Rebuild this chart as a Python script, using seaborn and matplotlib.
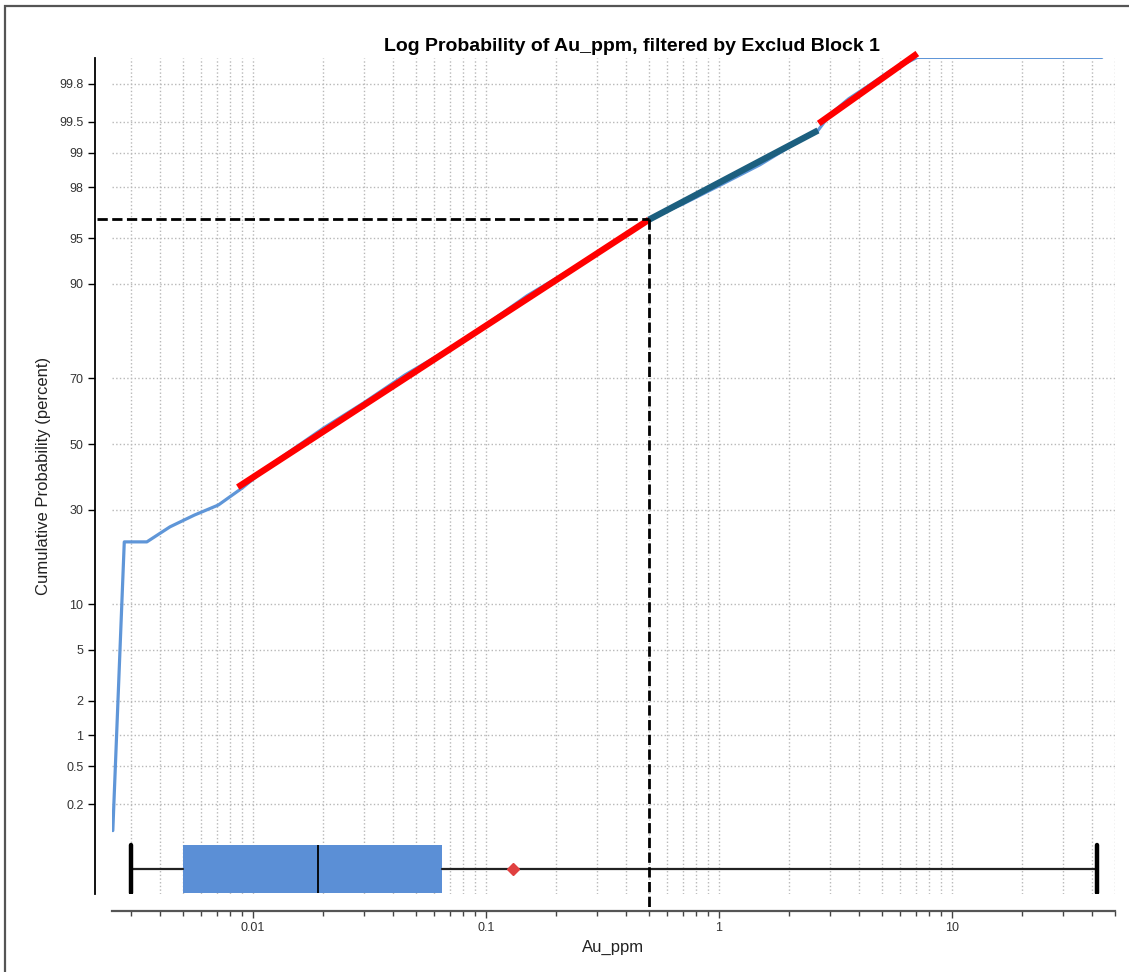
import numpy as np
import pandas as pd
import matplotlib
matplotlib.use("Agg")
import matplotlib.pyplot as plt
import matplotlib.ticker as mticker
import seaborn as sns
from statistics import NormalDist

# probability axis helper (percent -> normal z)
def to_z(pct):
    return [NormalDist().inv_cdf(p / 100.0) for p in pct]

# 1. DATA
# empirical cumulative curve (ppm, percent)
cdf_ppm = [0.0025, 0.0028, 0.0035, 0.0044, 0.0056, 0.0071, 0.0090, 0.012, 0.02, 0.03,
           0.045, 0.07, 0.1, 0.15, 0.25, 0.35, 0.5, 0.7, 1.0, 1.5, 2.0, 2.66,
           3.0, 3.6, 4.5, 5.5, 7.1, 44.0]
cdf_pct = [0.1, 21.7, 21.7, 25.4, 28.5, 31.3, 36.3, 43.6, 55.0, 63.0,
           71.0, 77.7, 83.0, 88.2, 92.4, 94.6, 96.4, 97.25, 98.05, 98.72, 99.12, 99.39,
           99.58, 99.71, 99.80, 99.86, 99.9, 99.9]

# fitted population segments (ppm, percent)
fit1_ppm = [0.0086, 0.5]
fit1_pct = [36.5, 96.35]
fit2_ppm = [0.5, 2.66]
fit2_pct = [96.35, 99.39]
fit3_ppm = [2.68, 7.1]
fit3_pct = [99.48, 99.91]

# threshold marker
thresh_ppm = 0.5
thresh_pct = 96.4

# box summary (ppm)
box_min, box_q1, box_med, box_q3, box_max = 0.003, 0.005, 0.019, 0.065, 42.0
box_mean = 0.13

ytick_pct = [0.2, 0.5, 1, 2, 5, 10, 30, 50, 70, 90, 95, 98, 99, 99.5, 99.8]
ytick_lbl = ["0.2", "0.5", "1", "2", "5", "10", "30", "50", "70", "90", "95", "98", "99", "99.5", "99.8"]

# 2. STYLE
sns.set_style("ticks")
plt.rcParams['font.family'] = ['Liberation Sans', 'DejaVu Sans']

fig = plt.figure(figsize=(11.29, 9.72), dpi=100)
ax = fig.add_axes([112 / 1129, 1 - 894 / 972, 1003 / 1129, 836 / 972])

y_top, y_bot = 3.0855, -3.597
box_z, box_h = -3.397, 0.384

# 3. PLOT
cdf = pd.DataFrame({"ppm": cdf_ppm, "z": to_z(cdf_pct)})
sns.lineplot(data=cdf, x="ppm", y="z", sort=False, estimator=None, ax=ax,
             color="#5f96d8", lw=2.3, zorder=3)

for xs, ps, col, lw in [(fit1_ppm, fit1_pct, "#ff0000", 4.6),
                        (fit2_ppm, fit2_pct, "#1c5f7f", 4.6),
                        (fit3_ppm, fit3_pct, "#ff0000", 4.6)]:
    seg = pd.DataFrame({"ppm": xs, "z": to_z(ps)})
    sns.lineplot(data=seg, x="ppm", y="z", sort=False, estimator=None, ax=ax,
                 color=col, lw=lw, zorder=4, solid_capstyle="butt", clip_on=False)

# threshold dashed lines
tz = to_z([thresh_pct])[0]
ax.plot([0.00214, thresh_ppm], [tz, tz], ls="--", color="black", lw=2.0,
        zorder=5, clip_on=False)
ax.plot([thresh_ppm, thresh_ppm], [tz, -3.733], ls="--", color="black", lw=2.0,
        zorder=5, clip_on=False)

# box plot below the probability curve
stats = [dict(whislo=box_min, q1=box_q1, med=box_med, q3=box_q3, whishi=box_max,
              mean=box_mean, fliers=[])]
ax.bxp(stats, positions=[box_z], widths=box_h, capwidths=box_h, vert=False,
       showmeans=True, patch_artist=True, manage_ticks=False,
       boxprops=dict(facecolor="#5b8fd6", edgecolor="#5b8fd6", lw=0),
       medianprops=dict(color="black", lw=1.3),
       whiskerprops=dict(color="#222222", lw=1.6),
       capprops=dict(color="black", lw=3.2),
       meanprops=dict(marker="D", markerfacecolor="#e04040",
                      markeredgecolor="#e04040", markersize=6.5))

# 4. AXES
ax.set_xscale("log")
ax.set_xlim(0.00248, 50.1)
ax.set_ylim(y_bot, y_top)
ax.set_yticks(to_z(ytick_pct))
ax.set_yticklabels(ytick_lbl)
ax.xaxis.set_major_locator(mticker.LogLocator(base=10, numticks=10))
ax.xaxis.set_minor_locator(mticker.LogLocator(base=10, subs=np.arange(2, 10), numticks=20))
ax.xaxis.set_major_formatter(mticker.FuncFormatter(lambda v, p: f"{v:g}"))
ax.xaxis.set_minor_formatter(mticker.NullFormatter())

ax.grid(True, axis="x", which="both", ls=":", color="#b8b8b8", lw=1.0)
ax.grid(True, axis="y", which="major", ls=":", color="#b8b8b8", lw=1.0)
ax.set_axisbelow(True)

sns.despine(ax=ax, offset=12)
ax.spines["left"].set_color("black")
ax.spines["left"].set_linewidth(1.3)
ax.spines["bottom"].set_color("#555555")
ax.spines["bottom"].set_linewidth(1.6)
ax.tick_params(axis="y", which="major", length=5, width=1, color="black",
               labelsize=9, labelcolor="#333333")
ax.tick_params(axis="x", which="major", length=5, width=1, color="#444444",
               labelsize=9, labelcolor="#333333")
ax.tick_params(axis="x", which="minor", length=3.5, width=1, color="#444444")

ax.set_xlabel("Au_ppm", fontsize=12, color="#222222")
ax.set_ylabel("Cumulative Probability (percent)", fontsize=12, color="#222222", labelpad=6)
ax.set_title("Log Probability of Au_ppm, filtered by Exclud Block 1",
             fontsize=14, fontweight="bold", color="black", x=0.518, pad=5)

# frame around the figure (left and top visible)
fig.add_artist(plt.Rectangle((5 / 1129, -0.1), 1.2, 1.1 - 6 / 972,
                             transform=fig.transFigure, fill=False,
                             ec="#555555", lw=1.6))

fig.savefig("out.png", dpi=100)
